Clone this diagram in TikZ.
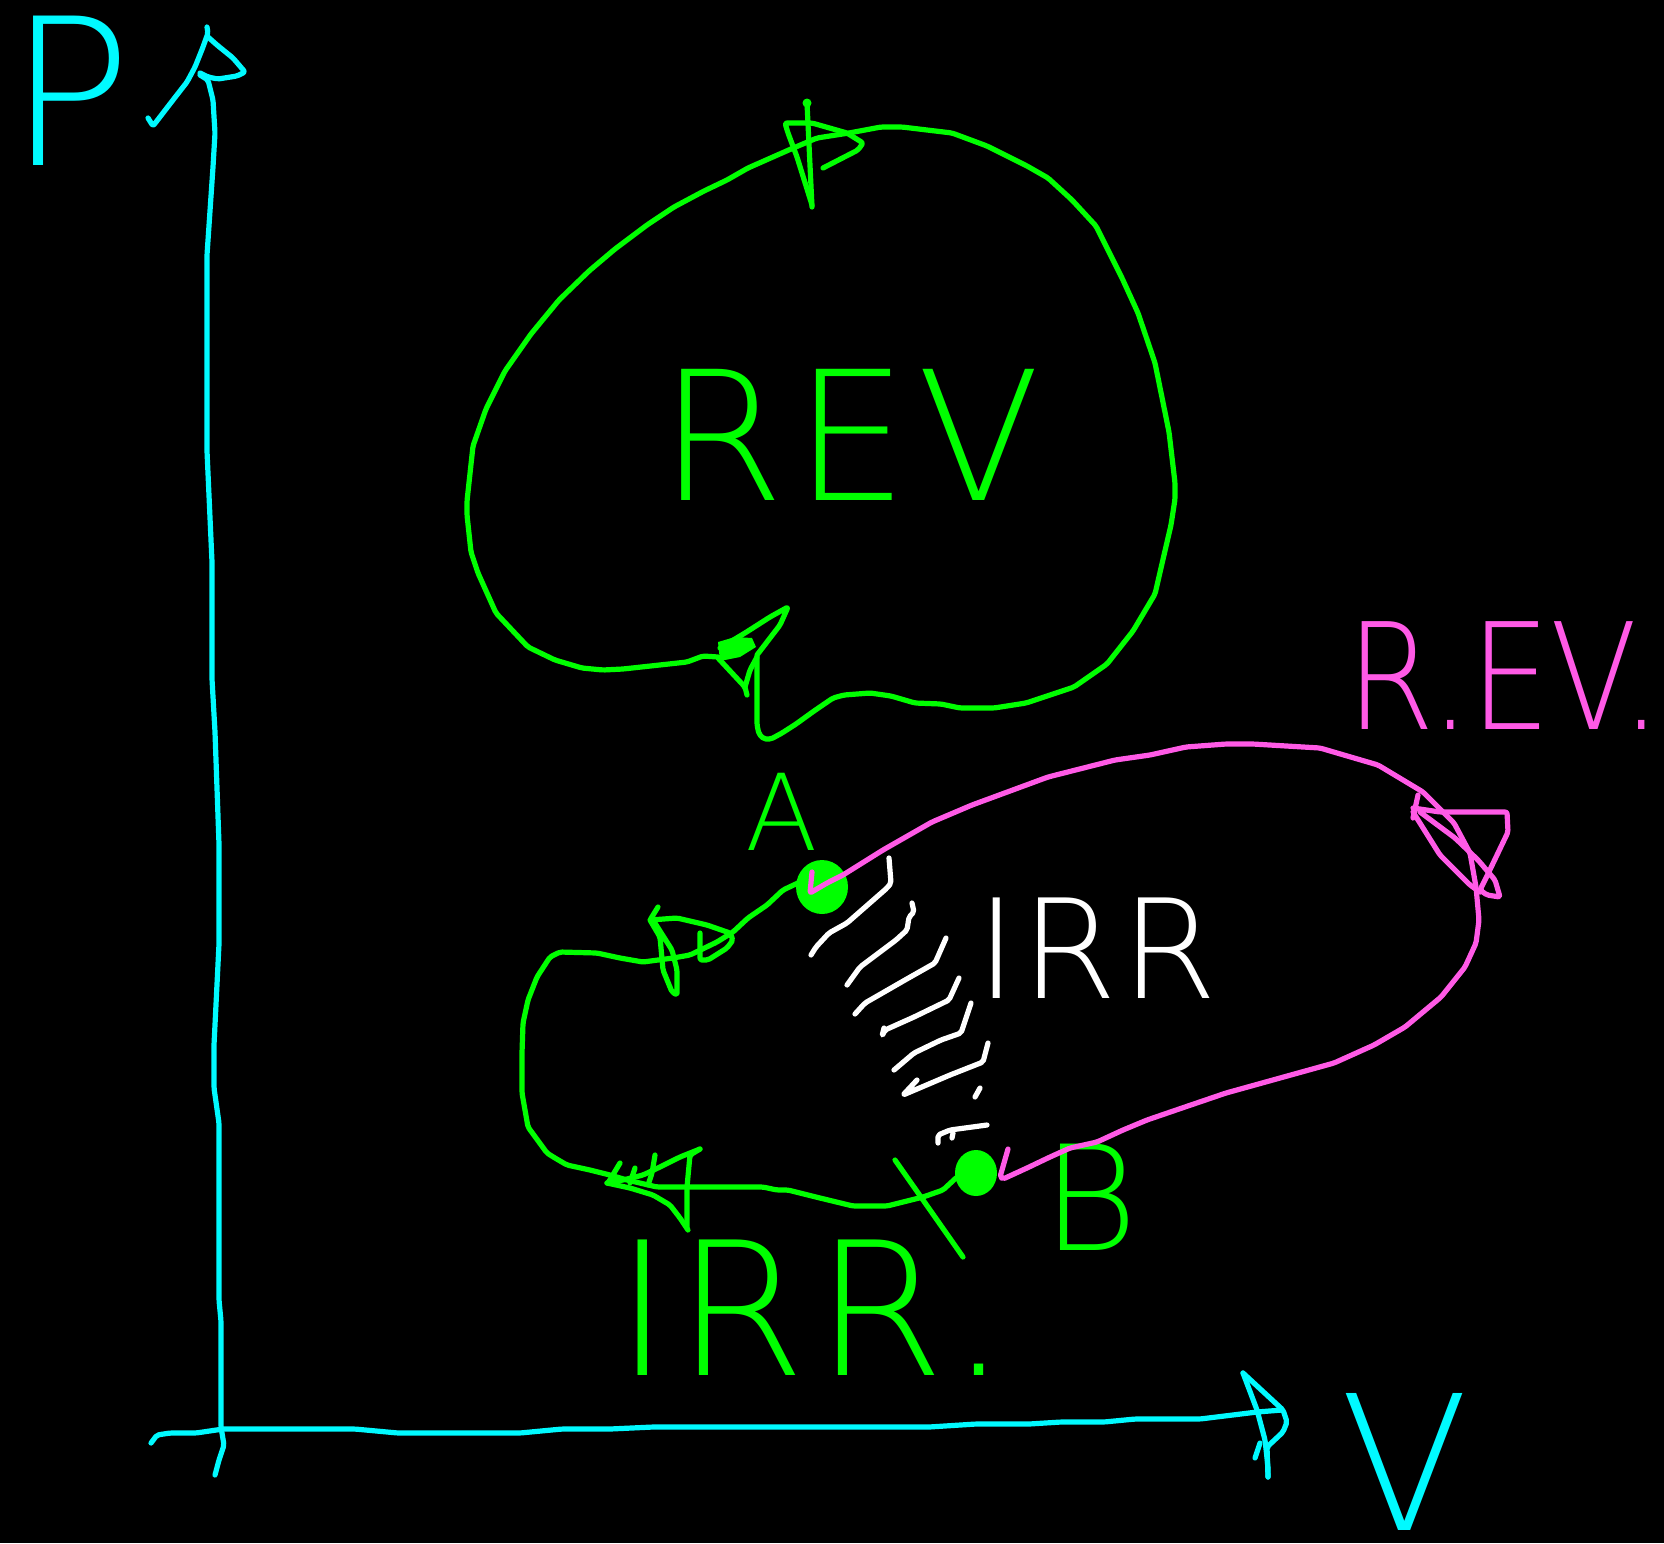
\documentclass[tikz,border=0pt]{standalone}
\usepackage{fontspec}
\IfFontExistsTF{DejaVuSans-ExtraLight.ttf}
  {\newfontfamily\handfont{DejaVuSans-ExtraLight.ttf}}
  {\IfFontExistsTF{DejaVu Sans ExtraLight}
     {\newfontfamily\handfont{DejaVu Sans ExtraLight}}
     {\newcommand\handfont{\sffamily}}}
\definecolor{cy}{RGB}{0,250,255}
\definecolor{gr}{RGB}{0,255,0}
\definecolor{pk}{RGB}{255,90,230}
\begin{document}
\begin{tikzpicture}[x=1pt,y=-1pt,line cap=round,line join=round,
  ink/.style={line width=5.2pt,rounded corners=2pt},
  lbl/.style={inner sep=0pt,anchor=base}]
\fill[black] (0,0) rectangle (1664,1543);
\useasboundingbox (0,0) rectangle (1664,1543);
% key points
\coordinate (A) at (822,887);
\coordinate (B) at (976,1173);
% ---------------- axes (cyan)
\draw[ink,cy] (200,75)--(208,80)--(213,100)--(215,133)--(213,167)--(207,255)--(207,451)--(212,562)--(212,679)--(215,732)--(219,844)--(219,944)--(214,1045)--(214,1088)--(219,1123)--(219,1300)--(221,1321)--(221,1427)--(224,1445)--(219,1460)--(215,1475);
\draw[ink,cy] (207,27)--(208,33)--(203,47)--(195,67)--(187,82)--(173,100)--(163,113)--(153,126)--(148,118);
\draw[ink,cy] (208,37)--(217,45)--(233,58)--(245,72)--(237,76)--(218,79)--(208,77)--(200,73);
\draw[ink,cy] (151,1443)--(157,1435)--(170,1433)--(196,1433)--(223,1429)--(355,1429)--(398,1433)--(520,1433)--(562,1429)--(610,1429)--(653,1427)--(929,1427)--(976,1424)--(1029,1424)--(1061,1422)--(1104,1422)--(1135,1419)--(1200,1419)--(1257,1412)--(1282,1410);
\draw[ink,cy] (1243,1373)--(1283,1410)--(1287,1422)--(1283,1432)--(1267,1447)--(1268,1477);
\draw[ink,cy] (1243,1373)--(1257,1410)--(1265,1440)--(1268,1467)--(1268,1477);
\draw[ink,cy] (1260,1443)--(1255,1458);
\node[lbl,text=cy,font=\handfont\fontsize{205}{205}\selectfont] (Plbl) at (70,165) {P};
\node[lbl,text=cy,font=\handfont\fontsize{188}{188}\selectfont] (Vlbl) at (1405,1530) {V};
% ---------------- REV loop (green)
\draw[ink,gr] (718,657)--(703,656)--(687,662)--(623,669)--(603,670)--(582,668)--(555,660)--(528,647)--(496,613)--(478,573)--(471,552)--(467,515)--(467,501)--(473,446)--(486,409)--(505,371)--(531,334)--(559,300)--(589,271)--(615,249)--(647,225)--(674,207)--(704,191)--(727,180)--(748,168)--(791,149)--(817,138)--(849,133)--(881,127)--(902,127)--(952,133)--(987,146)--(1027,166)--(1048,178)--(1072,200)--(1096,226)--(1122,278)--(1138,313)--(1155,363)--(1169,432)--(1175,483)--(1175,499)--(1171,525)--(1164,555)--(1155,594)--(1133,631)--(1107,664)--(1074,687)--(1026,703)--(994,708)--(960,708)--(941,704)--(915,703)--(891,696)--(870,693)--(844,695)--(833,698)--(814,711)--(796,724)--(782,733)--(771,739)--(764,739)--(759,734)--(757,725)--(757,657);
% top arrowhead
\draw[ink,gr] (807,103)--(812,207);
\fill[gr] (807,103) circle (4.5);
\draw[ink,gr] (823,168)--(858,150)--(863,143)--(847,133)--(812,123)--(785,123)--(788,133)--(797,157)--(812,205);
% lower-left arrowhead of REV loop
\fill[gr] (718,642)--(735,637)--(752,638)--(756,647)--(740,657)--(720,661)--cycle;
\draw[ink,gr] (720,648)--(745,633)--(770,617)--(788,607)--(780,625)--(757,655);
\draw[ink,gr] (718,658)--(745,687)--(747,695);
\draw[ink,gr] (745,687)--(750,670)--(757,657);
\node[lbl,text=gr,font=\handfont\fontsize{180}{180}\selectfont] (REVlbl) at (850,500) {R\kern10pt E\kern10pt V};
\node[lbl,text=gr,font=\handfont\fontsize{106}{106}\selectfont] (Albl) at (782,850) {A};
\node[lbl,text=gr,font=\handfont\fontsize{146}{146}\selectfont] (Blbl) at (1090,1250) {B};
% ---------------- IRR loop (green)
\draw[ink,gr] (A)--(800,882)--(783,890)--(767,905)--(748,918)--(733,932)--(717,942)--(690,955)--(673,958)--(643,962)--(620,958)--(597,953)--(560,952)--(550,957)--(537,977)--(528,1000)--(523,1023)--(522,1053)--(522,1093)--(528,1127)--(547,1153)--(555,1158)--(567,1165)--(590,1170)--(610,1175)--(627,1180)--(657,1187)--(690,1187)--(763,1187)--(777,1190)--(788,1190)--(820,1198)--(853,1206)--(887,1206)--(923,1197)--(943,1190)--(957,1177)--(B);
\draw[ink,gr] (658,907)--(650,920)--(677,918)--(707,925)--(730,933)--(733,940)--(727,948)--(708,960)--(700,960)--(700,933);
\draw[ink,gr] (650,920)--(660,937)--(663,970)--(672,992)--(677,995)--(677,970)--(672,950)--(653,920);
\draw[ink,gr] (620,1163)--(608,1183);
\draw[ink,gr] (635,1168)--(630,1183);
\draw[ink,gr] (655,1155)--(652,1173)--(648,1185);
\draw[ink,gr] (700,1149)--(690,1155)--(687,1187)--(687,1228);
\draw[ink,gr] (700,1149)--(680,1157)--(660,1167)--(643,1175)--(623,1180)--(607,1183);
\draw[ink,gr] (607,1183)--(630,1188)--(653,1195)--(670,1205)--(680,1218)--(688,1230);
\draw[ink,gr] (895,1160)--(963,1257);
\fill[gr] (A) ellipse (26 and 27);
\fill[gr] (B) ellipse (21 and 23);
\node[lbl,text=gr,font=\handfont\fontsize{186}{186}\selectfont] (IRRlbl) at (812,1375) {I\kern6pt R\kern10pt R\kern4pt.};
% ---------------- REV loop (pink)
\draw[ink,pk] (812,872)--(810,893)--(827,883)--(843,875)--(883,850)--(932,822)--(972,805)--(1048,777)--(1115,760)--(1150,755)--(1186,747)--(1226,744)--(1253,744)--(1320,748)--(1378,765)--(1423,792)--(1454,823)--(1470,853)--(1476,887)--(1479,920)--(1476,943)--(1465,967)--(1441,997)--(1405,1027)--(1374,1045)--(1334,1063)--(1262,1083)--(1226,1093)--(1182,1108)--(1147,1120)--(1123,1130)--(1097,1142)--(1070,1148)--(1050,1157)--(1027,1168)--(1003,1179)--(1000,1177)--(1008,1149);
\draw[ink,pk] (1418,795)--(1413,818);
\draw[ink,pk] (1413,808)--(1440,812)--(1507,812)--(1508,832)--(1497,855)--(1485,880)--(1480,890)--(1487,895)--(1500,897)--(1495,880)--(1478,860)--(1455,838)--(1420,812);
\draw[ink,pk] (1413,812)--(1440,855)--(1470,885)--(1480,892);
\node[lbl,text=pk,font=\handfont\fontsize{148}{148}\selectfont] (REVpk) at (1504,729) {\scalebox{0.86}[1]{R.EV.}};
% ---------------- white hatching and IRR
\draw[ink,white] (889,858)--(891,883)--(887,888)--(847,923)--(829,933)--(816,947)--(811,955);
\draw[ink,white] (912,903)--(914,912)--(909,917)--(907,930)--(896,940)--(860,967)--(847,985);
\draw[ink,white] (946,938)--(935,963)--(905,980)--(865,1003)--(855,1014);
\draw[ink,white] (959,978)--(949,1000)--(914,1017)--(885,1030)--(882,1036)--(884,1028);
\draw[ink,white] (971,1003)--(961,1033)--(941,1040)--(914,1053)--(894,1070);
\draw[ink,white] (988,1043)--(983,1062)--(950,1075)--(903,1095)--(917,1080);
\draw[ink,white] (980,1088)--(975,1097);
\draw[ink,white] (987,1125)--(950,1130)--(938,1135)--(938,1143);
\draw[ink,white] (953,1133)--(952,1138);
\node[lbl,text=white,font=\handfont\fontsize{138}{138}\selectfont] (IRRw) at (1097,998) {I\kern4pt R\kern4pt R};
\end{tikzpicture}
\end{document}
